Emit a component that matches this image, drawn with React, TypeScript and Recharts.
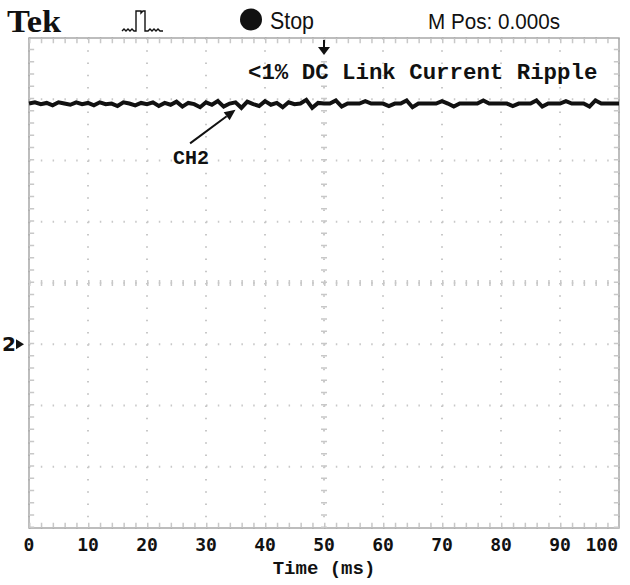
import { LineChart, Line, XAxis, YAxis, CartesianGrid, ReferenceLine, ReferenceArea, ReferenceDot, Label } from 'recharts';

// scope screen: 10 horizontal divisions (0-100 ms), 8 vertical divisions
// vertical units are divisions above the CH2 ground marker
const SAMPLE_MS = 1;
const TIME_TICKS = [0, 10, 20, 30, 40, 50, 60, 70, 80, 90, 100];
const DIV_LEVELS = [-3, -2, -1, 0, 1, 2, 3, 4, 5];
const CH2_GROUND = [0];

const CH2_TRACE = [
  3.93, 3.95, 3.92, 3.94, 3.90, 3.95, 3.93, 3.91, 3.95, 3.92,
  3.94, 3.90, 3.95, 3.92, 3.93, 3.89, 3.95, 3.93, 3.90, 3.94,
  3.92, 3.95, 3.89, 3.94, 3.91, 3.96, 3.88, 3.94, 3.92, 3.87,
  3.95, 3.91, 3.97, 3.88, 3.93, 3.95, 3.86, 3.96, 3.92, 3.89,
  3.97, 3.91, 3.94, 3.87, 3.95, 3.92, 3.93, 3.99, 3.86, 3.94,
  3.93, 3.93, 3.98, 3.88, 3.93, 3.93, 3.93, 3.97, 3.93, 3.93,
  3.93, 3.89, 3.93, 3.93, 3.98, 3.87, 3.93, 3.93, 3.93, 3.93,
  3.97, 3.93, 3.88, 3.93, 3.93, 3.93, 3.93, 3.98, 3.93, 3.93,
  3.93, 3.93, 3.89, 3.93, 3.93, 3.93, 3.98, 3.88, 3.93, 3.93,
  3.93, 3.97, 3.93, 3.93, 3.93, 3.88, 3.98, 3.93, 3.93, 3.93,
  3.93,
];

// CH2 label + pointer, in ms / divisions
const CH2_POINTER = [
  { x: 27.3, y: 3.28 },
  { x: 35.0, y: 3.83 },
];

const data = CH2_TRACE.map((v, i) => ({ t: i * SAMPLE_MS, ch2: v }));

const GRID = '#c8c8c8';
const BORDER = '#a8a8a8';
const MONO = "'Liberation Mono', 'DejaVu Sans Mono', monospace";

const TimeTick = ({ x, y, payload, index }: any) => (
  <text
    x={x}
    y={y}
    dy={21}
    textAnchor={index === TIME_TICKS.length - 1 ? 'end' : 'middle'}
    fontFamily="'DejaVu Sans Mono', monospace"
    fontWeight="bold"
    fontSize={18}
    fill="#111"
  >
    {payload.value}
  </text>
);

const GroundTick = ({ x, y }: any) => (
  <g>
    <text x={x - 9} y={y} dy={7} textAnchor="end" fontFamily="'DejaVu Sans', sans-serif" fontWeight="bold" fontSize={20} fill="#111">
      2
    </text>
    <path d={`M${x - 9},${y - 5} L${x - 1},${y} L${x - 9},${y + 5} Z`} fill="#111" />
  </g>
);

const TriggerMark = ({ cx, cy }: any) => (
  <g>
    <line x1={cx} y1={cy + 2} x2={cx} y2={cy + 10} stroke="#111" strokeWidth={2} />
    <path d={`M${cx - 6},${cy + 9} L${cx + 6},${cy + 9} L${cx},${cy + 17} Z`} fill="#111" />
  </g>
);

const Pointer = ({ x1, y1, x2, y2 }: any) => {
  const ang = Math.atan2(y2 - y1, x2 - x1);
  const hx = x2 - Math.cos(ang) * 11;
  const hy = y2 - Math.sin(ang) * 11;
  const px = -Math.sin(ang) * 5;
  const py = Math.cos(ang) * 5;
  return (
    <g>
      <line x1={x1} y1={y1} x2={hx} y2={hy} stroke="#111" strokeWidth={2} />
      <path d={`M${x2},${y2} L${hx + px},${hy + py} L${hx - px},${hy - py} Z`} fill="#111" />
      <text x={x1 + 1} y={y1 + 21} textAnchor="middle" fontFamily={MONO} fontWeight="bold" fontSize={20} fill="#111">
        CH2
      </text>
    </g>
  );
};

export default function App() {
  return (
    <div style={{ position: 'absolute', left: 0, top: 0, width: 630, height: 585, background: '#fff' }}>
      <LineChart width={630} height={585} data={data} margin={{ top: 38, right: 11, bottom: 7, left: 0 }}>
        <CartesianGrid
          horizontal={false}
          verticalValues={TIME_TICKS}
          stroke={GRID}
          strokeWidth={2}
          strokeDasharray="1.5 10.75"
        />
        <CartesianGrid
          vertical={false}
          horizontalValues={DIV_LEVELS}
          stroke={GRID}
          strokeWidth={2}
          strokeDasharray="1.5 10.3"
        />
        <XAxis
          dataKey="t"
          type="number"
          domain={[0, 100]}
          ticks={TIME_TICKS}
          axisLine={false}
          tickLine={false}
          tickSize={0}
          height={50}
          tick={<TimeTick />}
        >
          <Label value="Time (ms)" position="insideBottom" offset={4} fontFamily={MONO} fontWeight="bold" fontSize={19} fill="#111" />
        </XAxis>
        <YAxis
          type="number"
          domain={[-3, 5]}
          ticks={CH2_GROUND}
          width={29}
          axisLine={false}
          tickLine={false}
          tickSize={0}
          tickMargin={4}
          tick={<GroundTick />}
        />
        {/* minor division marks on the centre lines and the frame */}
        <ReferenceLine x={50} stroke={GRID} strokeWidth={6} strokeDasharray="1.5 10.75" />
        <ReferenceLine y={1} stroke={GRID} strokeWidth={6} strokeDasharray="1.5 10.3" />
        <ReferenceLine y={4.955} stroke={GRID} strokeWidth={5} strokeDasharray="1.5 10.3" />
        <ReferenceLine y={-2.955} stroke={GRID} strokeWidth={5} strokeDasharray="1.5 10.3" />
        <ReferenceLine x={0.45} stroke={GRID} strokeWidth={5} strokeDasharray="1.5 10.75" />
        <ReferenceLine x={99.55} stroke={GRID} strokeWidth={5} strokeDasharray="1.5 10.75" />
        <ReferenceArea x1={0} x2={100} y1={-3} y2={5} fill="none" stroke={BORDER} strokeWidth={1.5} />
        <Line type="linear" dataKey="ch2" stroke="#111" strokeWidth={4} dot={false} isAnimationActive={false} />
        <ReferenceDot x={50} y={5} r={0} ifOverflow="visible" shape={<TriggerMark />} />
        <ReferenceLine segment={CH2_POINTER} ifOverflow="visible" shape={<Pointer />} />
      </LineChart>
      <svg width={630} height={585} style={{ position: 'absolute', left: 0, top: 0, pointerEvents: 'none' }}>
        <text x={7} y={32} fontFamily="'Liberation Serif', serif" fontWeight="bold" fontSize={31} textLength={54} lengthAdjust="spacingAndGlyphs" fill="#111">
          Tek
        </text>
        <path
          d="M122,31 L124,29 L126,31 L128,29 L130,31 L132,29 L134,31 L136,31 L136,11 L141,11 L141,13 L143,11 L145,11 L145,31 L148,31 L150,29 L152,31 L154,29 L156,31 L158,29 L160,31 L163,31"
          fill="none"
          stroke="#111"
          strokeWidth={1.4}
        />
        <circle cx={251} cy={19.5} r={11} fill="#111" />
        <text x={270} y={29} fontFamily="'Liberation Sans', sans-serif" fontSize={24} textLength={44} lengthAdjust="spacingAndGlyphs" fill="#111">
          Stop
        </text>
        <text x={428} y={29} fontFamily="'Liberation Sans', sans-serif" fontSize={22} textLength={132} lengthAdjust="spacingAndGlyphs" fill="#111">
          M Pos: 0.000s
        </text>
        <text x={248} y={79} fontFamily={MONO} fontWeight="bold" fontSize={22.4} fill="#111">
          {'<1% DC Link Current Ripple'}
        </text>
      </svg>
    </div>
  );
}
